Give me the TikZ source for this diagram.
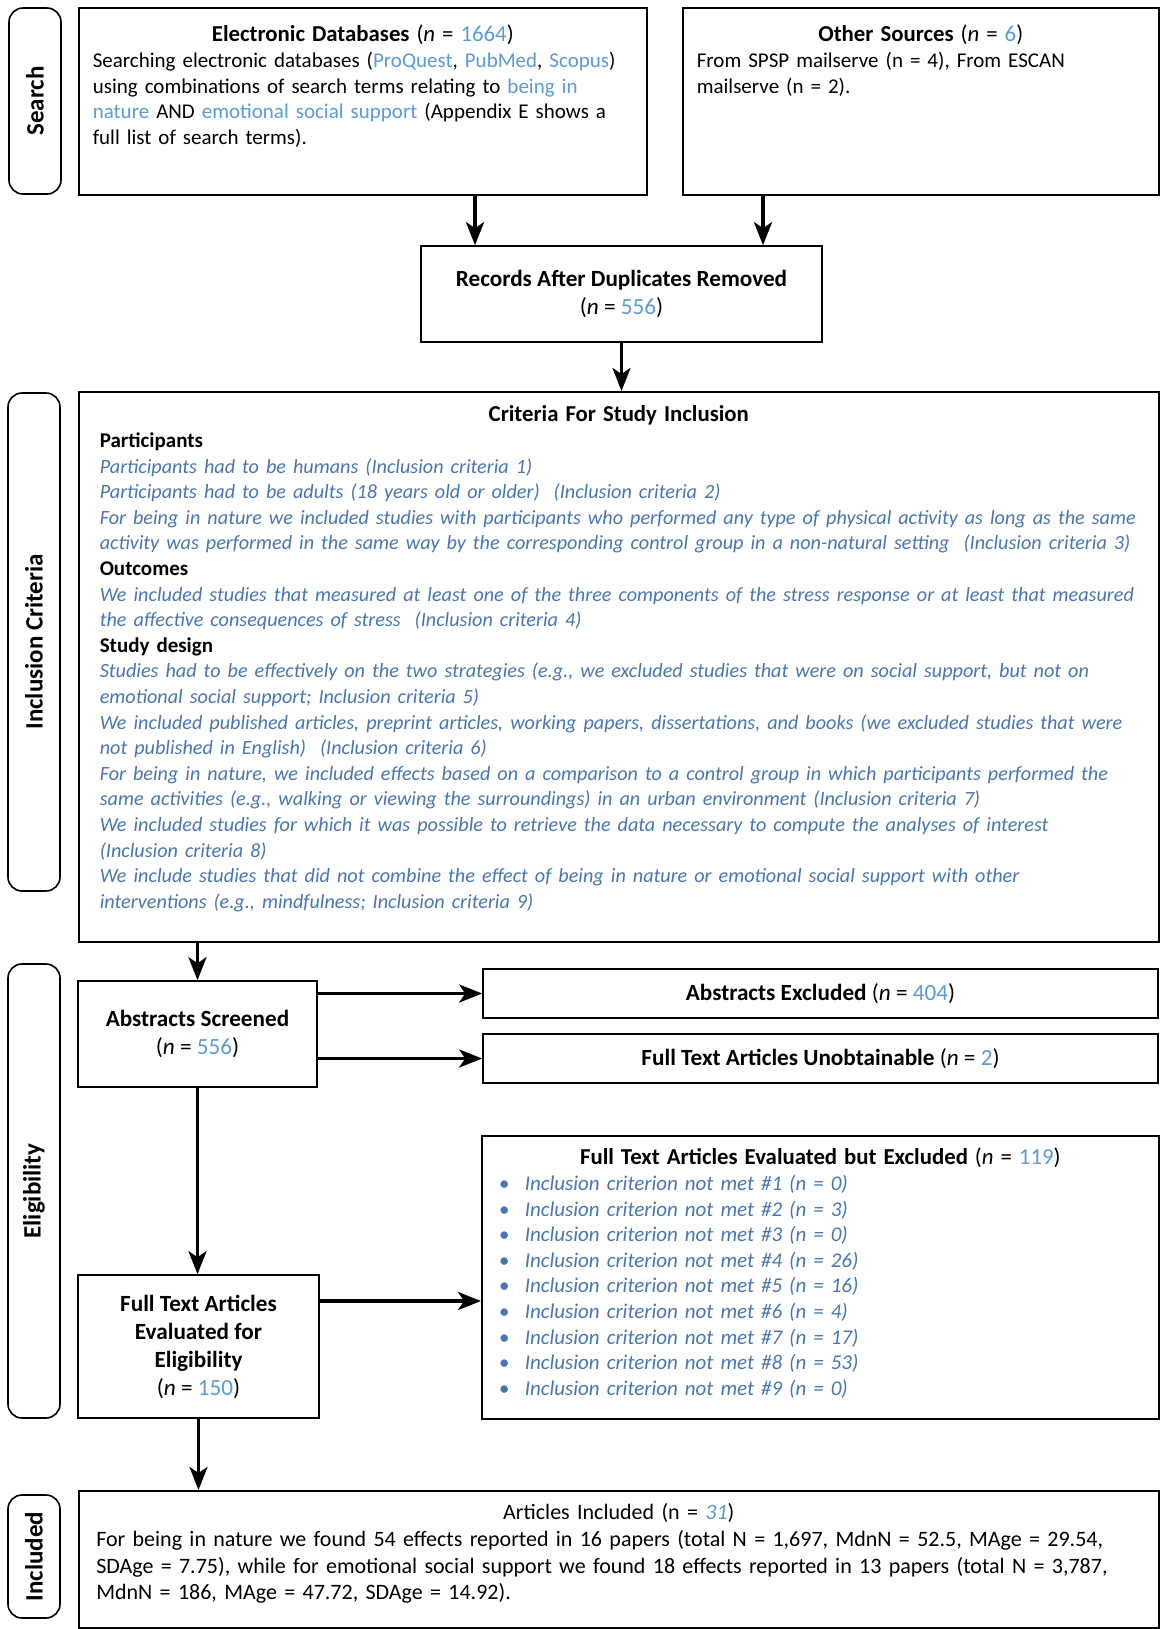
\documentclass[tikz,border=0pt]{standalone}
\usepackage{fontspec}
\setmainfont{Carlito}
\usepackage{xcolor}
\usetikzlibrary{arrows.meta,positioning}
\definecolor{numblue}{RGB}{91,155,213}
\definecolor{critblue}{RGB}{72,118,178}

\begin{document}
\begin{tikzpicture}
	[x=0.5pt,y=-0.5pt,line width=0.8pt,
	every node/.style={font=\fontsize{10.5}{12.8}\selectfont},
	box/.style={draw,rectangle,inner sep=2pt,align=center,font=\bfseries\fontsize{11.6}{13.5}\selectfont},
	topbox/.style={draw,rectangle,anchor=north west,inner xsep=7pt,inner ysep=0pt,align=left},
	side/.style={draw,rectangle,rounded corners=7pt,rotate=90,minimum height=26pt,inner sep=0pt,font=\bfseries\fontsize{12.5}{14}\selectfont},
	every edge/.style={draw,line width=1.7pt,-{Stealth[length=11.5pt,width=9pt,inset=3pt]}}]

	\useasboundingbox (0,0) rectangle (1161,1629);

	% phase labels on the left
	\node[side,minimum width=93pt] (lsearch) at (35,101) {Search};
	\node[side,minimum width=249pt] (lcrit) at (34,642) {Inclusion Criteria};
	\node[side,minimum width=227pt] (lelig) at (34,1191) {Eligibility};
	\node[side,minimum width=61.5pt] (linc) at (34,1556.5) {Included};

	% search
	\node[topbox,text width=270pt,text height=17pt,text depth=76.5pt] (db) at (78,7)
	{{\centering\fontsize{11.4}{12.8}\selectfont\textbf{Electronic Databases} (\textit{n} = \textcolor{numblue}{1664})\par}
	Searching electronic databases (\textcolor{numblue}{ProQuest}, \textcolor{numblue}{PubMed}, \textcolor{numblue}{Scopus})\\
	using combinations of search terms relating to \textcolor{numblue}{being in}\\
	\textcolor{numblue}{nature} AND \textcolor{numblue}{emotional social support} (Appendix E shows a\\
	full list of search terms).};
	\node[topbox,text width=224pt,text height=17pt,text depth=76.5pt] (other) at (682,7)
	{{\centering\fontsize{11.4}{12.8}\selectfont\textbf{Other Sources} (\textit{n} = \textcolor{numblue}{6})\par}
	From SPSP mailserve (n = 4), From ESCAN\\
	mailserve (n = 2).};
	\node[box,minimum width=200.5pt,minimum height=48pt] (rec) at (621.5,294)
	{Records After Duplicates Removed\\[0.5pt]\mdseries(\textit{n} = \textcolor{numblue}{556})};

	% criteria
	\node[topbox,inner xsep=10.5pt,text width=519pt,text height=15pt,text depth=260pt] (crit) at (78,391)
	{{\centering\fontsize{11.4}{12.8}\selectfont\textbf{Criteria For Study Inclusion}\par}
	\textbf{Participants}\\
	{\itshape\color{critblue}\fontsize{10.1}{12.8}\selectfont Participants had to be humans (Inclusion criteria 1)\\
	Participants had to be adults (18 years old or older)\ \ (Inclusion criteria 2)\\
	For being in nature we included studies with participants who performed any type of physical activity as long as the same\\
	activity was performed in the same way by the corresponding control group in a non-natural setting\ \ (Inclusion criteria 3)}\\
	\textbf{Outcomes}\\
	{\itshape\color{critblue}\fontsize{10.1}{12.8}\selectfont We included studies that measured at least one of the three components of the stress response or at least that measured\\
	the affective consequences of stress\ \ (Inclusion criteria 4)}\\
	\textbf{Study design}\\
	{\itshape\color{critblue}\fontsize{10.1}{12.8}\selectfont Studies had to be effectively on the two strategies (e.g., we excluded studies that were on social support, but not on\\
	emotional social support; Inclusion criteria 5)\\
	We included published articles, preprint articles, working papers, dissertations, and books (we excluded studies that were\\
	not published in English)\ \ (Inclusion criteria 6)\\
	For being in nature, we included effects based on a comparison to a control group in which participants performed the\\
	same activities (e.g., walking or viewing the surroundings) in an urban environment (Inclusion criteria 7)\\
	We included studies for which it was possible to retrieve the data necessary to compute the analyses of interest\\
	(Inclusion criteria 8)\\
	We include studies that did not combine the effect of being in nature or emotional social support with other\\
	interventions (e.g., mindfulness; Inclusion criteria 9)}};

	% eligibility
	\node[box,minimum width=119.5pt,minimum height=53pt] (abs) at (197.5,1034)
	{Abstracts Screened\\[0.5pt]\mdseries(\textit{n} = \textcolor{numblue}{556})};
	\node[box,minimum width=337.5pt,minimum height=24.5pt] (absx) at (820.5,993.5)
	{Abstracts Excluded \mdseries(\textit{n} = \textcolor{numblue}{404})};
	\node[box,minimum width=337.5pt,minimum height=24.5pt] (unob) at (820.5,1058.5)
	{Full Text Articles Unobtainable \mdseries(\textit{n} = \textcolor{numblue}{2})};
	\node[box,minimum width=120.5pt,minimum height=71.5pt] (fte) at (198.5,1346.5)
	{Full Text Articles\\[0.5pt]Evaluated for\\[0.5pt]Eligibility\\[0.5pt]\mdseries(\textit{n} = \textcolor{numblue}{150})};
	\node[topbox,text width=324.5pt,text height=14.5pt,text depth=127pt] (ftx) at (481,1135)
	{{\centering\fontsize{11.4}{12.8}\selectfont\textbf{Full Text Articles Evaluated but Excluded} (\textit{n} = \textcolor{numblue}{119})\par}
	\color{critblue}\itshape
	\makebox[14.5pt][l]{\hspace{1.5pt}\textbullet}Inclusion criterion not met \#1 (n = 0)\\
	\makebox[14.5pt][l]{\hspace{1.5pt}\textbullet}Inclusion criterion not met \#2 (n = 3)\\
	\makebox[14.5pt][l]{\hspace{1.5pt}\textbullet}Inclusion criterion not met \#3 (n = 0)\\
	\makebox[14.5pt][l]{\hspace{1.5pt}\textbullet}Inclusion criterion not met \#4 (n = 26)\\
	\makebox[14.5pt][l]{\hspace{1.5pt}\textbullet}Inclusion criterion not met \#5 (n = 16)\\
	\makebox[14.5pt][l]{\hspace{1.5pt}\textbullet}Inclusion criterion not met \#6 (n = 4)\\
	\makebox[14.5pt][l]{\hspace{1.5pt}\textbullet}Inclusion criterion not met \#7 (n = 17)\\
	\makebox[14.5pt][l]{\hspace{1.5pt}\textbullet}Inclusion criterion not met \#8 (n = 53)\\
	\makebox[14.5pt][l]{\hspace{1.5pt}\textbullet}Inclusion criterion not met \#9 (n = 0)};

	% included
	\node[topbox,inner xsep=8.75pt,text width=522.5pt,text height=14.5pt,text depth=54pt,font=\fontsize{11}{13.3}\selectfont] (inc) at (78,1490)
	{{\centering Articles Included (n = \textit{\textcolor{numblue}{31}})\par}
	For being in nature we found 54 effects reported in 16 papers (total N = 1,697, MdnN = 52.5, MAge = 29.54,\\
	SDAge = 7.75), while for emotional social support we found 18 effects reported in 13 papers (total N = 3,787,\\
	MdnN = 186, MAge = 47.72, SDAge = 14.92).};

	\coordinate (dbx) at (475,0);
	\coordinate (otherx) at (763,0);
	\coordinate (ftey) at (0,1301);

	\path (db.south -| dbx) edge (rec.north -| dbx);
	\path (other.south -| otherx) edge (rec.north -| otherx);
	\path (rec.south) edge (rec.south |- crit.north);
	\path (crit.south -| abs.north) edge (abs.north);
	\path (abs.east |- absx.west) edge (absx.west);
	\path (abs.east |- unob.west) edge (unob.west);
	\path (abs.south) edge (abs.south |- fte.north);
	\path (fte.east |- ftey) edge (ftx.west |- ftey);
	\path (fte.south) edge (fte.south |- inc.north);

\end{tikzpicture}
\end{document}
